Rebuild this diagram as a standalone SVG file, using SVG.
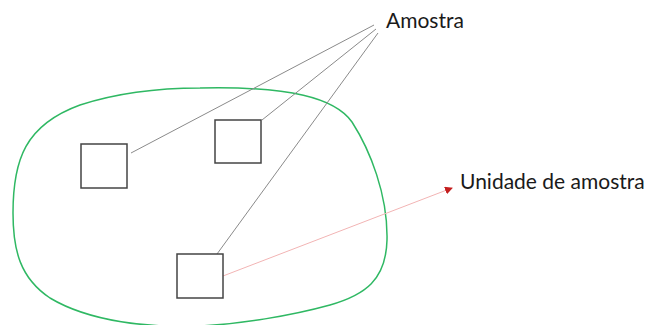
<svg xmlns="http://www.w3.org/2000/svg" width="646" height="325" viewBox="0 0 646 325">
<style>
.box{fill:#fff;stroke:#444;stroke-width:1.5}
.ln{stroke:#8a8a8a;stroke-width:1;fill:none}
.lbl{font-family:"Lato","Liberation Sans",sans-serif;font-size:21px;fill:#1a1a1a}
</style>
<defs>
<marker id="ah" markerWidth="8" markerHeight="8" refX="7" refY="4" orient="auto" markerUnits="userSpaceOnUse">
<path d="M0,0 L8,4 L0,8 Z" fill="#c41e1e"/>
</marker>
</defs>
<g id="population">
<path d="M200,88 C290,86 335,98 352,122 C370,150 388,195 387,240 C386,280 365,295 330,305 C290,316 240,324 200,326 C150,328 90,322 50,298 C20,278 13,250 13,213 C13,160 25,125 80,105 C120,92 160,88 200,88 Z" fill="none" stroke="#2fb863" stroke-width="1.5"/>
</g>
<g id="connectors">
<line class="ln" x1="131" y1="153" x2="374" y2="25"/>
<line class="ln" x1="262" y1="120" x2="376" y2="29"/>
<line class="ln" x1="217" y1="254" x2="378" y2="33"/>
<line x1="223" y1="276" x2="452" y2="188" stroke="#f2b4b4" stroke-width="1" marker-end="url(#ah)"/>
</g>
<g id="box1"><rect class="box" x="81" y="144" width="46" height="44"/></g>
<g id="box2"><rect class="box" x="215" y="120" width="46" height="43"/></g>
<g id="box3"><rect class="box" x="177" y="254" width="46" height="44"/></g>
<g id="amostra"><text class="lbl" x="386" y="28">Amostra</text></g>
<g id="unidade"><text class="lbl" x="460" y="189">Unidade de amostra</text></g>
</svg>
